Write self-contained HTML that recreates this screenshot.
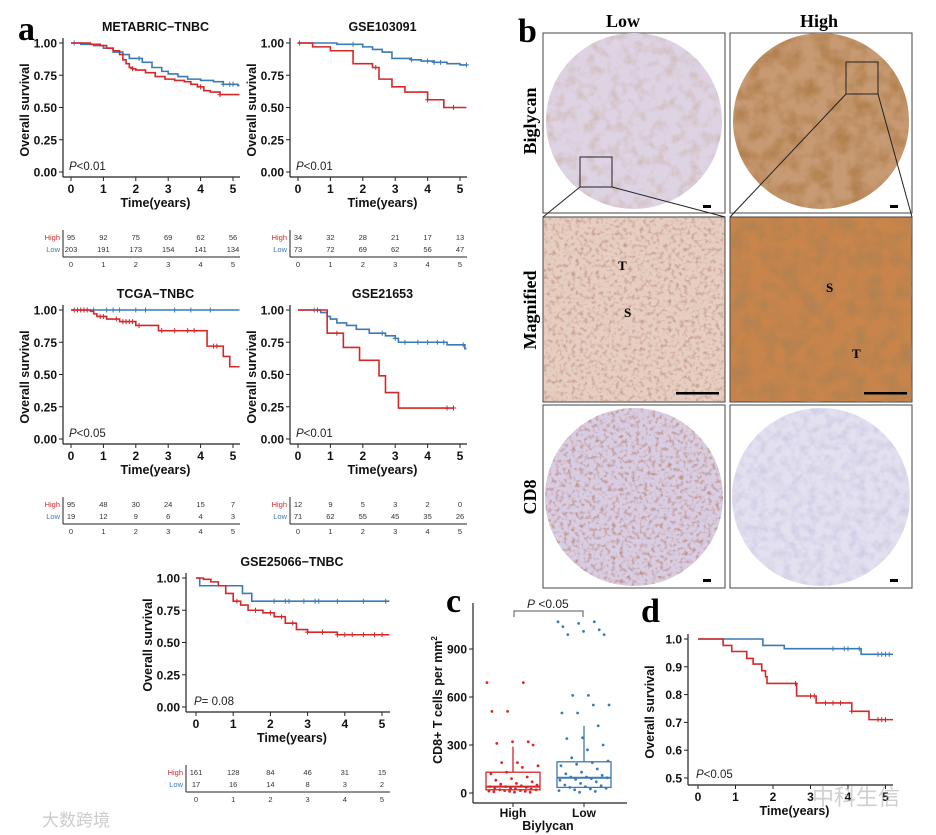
<!DOCTYPE html>
<html><head><meta charset="utf-8">
<style>
html,body{margin:0;padding:0;background:#fff;}
svg{display:block;font-family:"Liberation Sans",Arial,sans-serif;}
.tk{font-size:12px;font-weight:bold;fill:#111;}
.ttl{font-size:12.5px;font-weight:bold;fill:#111;}
.rt{font-size:7.5px;fill:#333;}
.pl{font-family:"Liberation Serif",serif;font-weight:bold;font-size:34px;fill:#000;}
.rl{font-family:"Liberation Serif",serif;font-weight:bold;font-size:18px;fill:#000;}
</style></head>
<body>
<svg id="fig" width="936" height="835" viewBox="0 0 936 835" xmlns="http://www.w3.org/2000/svg">
<defs>
<filter id="tex1" x="0" y="0" width="100%" height="100%"><feTurbulence type="fractalNoise" baseFrequency="0.09" numOctaves="3" seed="3"/><feColorMatrix type="matrix" values="0 0 0 0 0.55  0 0 0 0 0.35  0 0 0 0 0.25  0 0 0 1.6 -0.75"/></filter>
<filter id="tex2" x="0" y="0" width="100%" height="100%"><feTurbulence type="fractalNoise" baseFrequency="0.06" numOctaves="3" seed="7"/><feColorMatrix type="matrix" values="0 0 0 0 0.45  0 0 0 0 0.22  0 0 0 0 0.08  0 0 0 2.2 -0.8"/></filter>
<filter id="tex3" x="0" y="0" width="100%" height="100%"><feTurbulence type="fractalNoise" baseFrequency="0.25" numOctaves="2" seed="11"/><feColorMatrix type="matrix" values="0 0 0 0 0.5  0 0 0 0 0.25  0 0 0 0 0.2  0 0 0 2.5 -1.2"/></filter>
<filter id="tex4" x="0" y="0" width="100%" height="100%"><feTurbulence type="fractalNoise" baseFrequency="0.12" numOctaves="3" seed="5"/><feColorMatrix type="matrix" values="0 0 0 0 0.45  0 0 0 0 0.45  0 0 0 0 0.7  0 0 0 1.5 -0.6"/></filter>
<clipPath id="c1"><circle cx="634" cy="121" r="88"/></clipPath>
<clipPath id="c2"><circle cx="821" cy="121" r="88"/></clipPath>
<clipPath id="c3"><circle cx="634" cy="497" r="89"/></clipPath>
<clipPath id="c4"><circle cx="821" cy="497" r="89"/></clipPath>
<clipPath id="m1"><rect x="544" y="218" width="181" height="184"/></clipPath>
<clipPath id="m2"><rect x="731" y="218" width="181" height="184"/></clipPath>
</defs>

<text class="pl" x="18" y="40">a</text>
<text class="pl" x="518" y="42">b</text>
<text class="pl" x="446" y="612">c</text>
<text class="pl" x="641" y="622">d</text>

<g>
<text class="rl" x="606" y="27">Low</text>
<text class="rl" x="800" y="27">High</text>
<text class="rl" transform="translate(536,121) rotate(-90)" text-anchor="middle">Biglycan</text>
<text class="rl" transform="translate(536,310) rotate(-90)" text-anchor="middle">Magnified</text>
<text class="rl" transform="translate(536,497) rotate(-90)" text-anchor="middle">CD8</text>
<rect x="543" y="33" width="182" height="180" fill="#fff" stroke="#444"/>
<rect x="730" y="33" width="182" height="180" fill="#fff" stroke="#444"/>
<rect x="543" y="217" width="182" height="185" fill="#e6cfc2" stroke="#444"/>
<rect x="730" y="217" width="182" height="185" fill="#c8844a" stroke="#444"/>
<rect x="543" y="405" width="182" height="183" fill="#fff" stroke="#444"/>
<rect x="730" y="405" width="182" height="183" fill="#fff" stroke="#444"/>
<circle cx="634" cy="121" r="88" fill="#ddd3e3"/>
<rect x="546" y="33" width="176" height="176" filter="url(#tex1)" clip-path="url(#c1)" opacity="0.7"/>
<circle cx="821" cy="121" r="88" fill="#c79a73"/>
<rect x="733" y="33" width="176" height="176" filter="url(#tex2)" clip-path="url(#c2)"/>
<rect x="544" y="218" width="181" height="184" filter="url(#tex3)" clip-path="url(#m1)" opacity="0.8"/>
<rect x="731" y="218" width="181" height="184" filter="url(#tex2)" clip-path="url(#m2)"/>
<circle cx="634" cy="497" r="89" fill="#d8cde3"/>
<rect x="545" y="408" width="178" height="178" filter="url(#tex3)" clip-path="url(#c3)"/>
<circle cx="821" cy="497" r="89" fill="#e3e0ef"/>
<rect x="732" y="408" width="178" height="178" filter="url(#tex4)" clip-path="url(#c4)" opacity="0.6"/>
<text x="618" y="270" font-family="Liberation Serif" font-weight="bold" font-size="13">T</text>
<text x="624" y="317" font-family="Liberation Serif" font-weight="bold" font-size="13">S</text>
<text x="826" y="292" font-family="Liberation Serif" font-weight="bold" font-size="13">S</text>
<text x="852" y="358" font-family="Liberation Serif" font-weight="bold" font-size="13">T</text>
<g fill="#000">
<rect x="703" y="205" width="8" height="3"/><rect x="890" y="205" width="8" height="3"/>
<rect x="676" y="392" width="43" height="2.5"/><rect x="864" y="392" width="43" height="2.5"/>
<rect x="703" y="579" width="8" height="3"/><rect x="890" y="579" width="8" height="3"/>
</g>
<g fill="none" stroke="#222" stroke-width="1">
<rect x="580" y="157" width="32" height="30"/><line x1="580" y1="187" x2="543" y2="217"/><line x1="612" y1="187" x2="725" y2="217"/>
<rect x="846" y="62" width="32" height="32"/><line x1="846" y1="94" x2="730" y2="217"/><line x1="878" y1="94" x2="912" y2="217"/>
</g>
</g>

<g id="plots"></g>

<text x="42" y="826" font-size="17" fill="#ccc" font-family="'Liberation Sans','Noto Sans CJK SC',sans-serif">大数跨境</text>
<text x="812" y="805" font-size="22" fill="#bbb" font-family="'Liberation Sans','Noto Sans CJK SC',sans-serif" opacity="0.7">中科生信</text>
</svg>

<script>
const metaHighT=[0.6,0.9,1.1,1.3,1.5,1.6,1.7,1.8,1.9,2.0,2.3,2.6,2.9,3.2,3.5,3.7,3.9,4.1,4.3,4.6];
const metaHighS=[0.99,0.98,0.96,0.94,0.91,0.87,0.84,0.81,0.80,0.79,0.77,0.74,0.72,0.71,0.70,0.68,0.66,0.63,0.62,0.60];
const metaLowT=[0.3,0.7,1.0,1.3,1.6,1.8,2.2,2.5,2.8,3.0,3.3,3.6,4.0,4.4,4.7,5.15];
const metaLowS=[0.99,0.98,0.96,0.93,0.91,0.88,0.85,0.81,0.78,0.76,0.74,0.72,0.71,0.70,0.68,0.67];
const gse103HighT=[0.45,1.0,1.7,2.3,2.5,2.9,3.3,4.0,4.5];
const gse103HighS=[0.97,0.94,0.84,0.81,0.72,0.66,0.62,0.56,0.50];
const gse103LowT=[1.2,2.0,2.3,2.6,2.9,3.5,3.8,4.2,4.6,5.0];
const gse103LowS=[0.99,0.97,0.95,0.93,0.88,0.87,0.86,0.85,0.84,0.83];
const tcgaHighT=[0.6,0.7,0.8,1.1,1.5,2.0,2.7,4.2,4.7,4.9];
const tcgaHighS=[0.99,0.97,0.95,0.93,0.91,0.88,0.84,0.72,0.64,0.56];
const tcgaLowT=[];const tcgaLowS=[];
const gse216HighT=[0.9,1.4,1.9,2.5,2.7,3.1];
const gse216HighS=[0.82,0.71,0.61,0.49,0.36,0.24];
const gse216LowT=[0.7,0.9,1.0,1.2,1.5,1.8,2.2,2.7,3.0,3.1,4.6,5.15];
const gse216LowS=[0.98,0.95,0.93,0.90,0.88,0.85,0.82,0.80,0.78,0.75,0.73,0.70];
const gse250HighT=[0.2,0.4,0.6,0.8,1.0,1.2,1.4,1.8,2.1,2.4,2.7,3.0,3.8];
const gse250HighS=[0.99,0.97,0.94,0.88,0.82,0.79,0.75,0.73,0.70,0.65,0.60,0.58,0.56];
const gse250LowT=[0.1,1.25,1.5];
const gse250LowS=[0.94,0.88,0.82];
const dHighT=[0.67,0.9,1.3,1.47,1.7,1.8,1.84,2.63,3.15,4.1,4.56];
const dHighS=[0.977,0.955,0.93,0.91,0.886,0.864,0.84,0.795,0.77,0.74,0.71];
const dLowT=[1.73,2.3,4.35];
const dLowS=[0.977,0.965,0.945];
const metaHighC=[1.9,4.0,4.6];const metaLowC=[0.1,2.1,4.7,4.9,5.0];
const gse103HighC=[0.05,2.4,4.0,4.8];const gse103LowC=[1.7,3.5,4.0,4.2,4.4,5.2];
const tcgaHighC=[0.1,0.2,0.3,0.4,0.5,0.9,1.0,1.4,1.6,1.7,1.8,1.9,2.1,2.8,3.2,3.6,3.8,4.4,4.5];
const tcgaLowC=[0.7,1.1,1.3,1.5,2.0,2.3,3.2,3.7,4.3];
const gse216HighC=[0.6,1.2,4.6,4.8];const gse216LowC=[0.5,2.6,3.0,3.3,3.7,4.0,4.3,4.5,5.1];
const gse250HighC=[1.1,1.6,2.0,2.3,2.6,3.0,3.4,3.8,4.0,4.2,4.5,4.8,5.0];
const gse250LowC=[2.1,2.4,2.5,2.9,3.2,3.3,3.8,4.5,5.1];
const dHighC=[2.6,3.0,3.1,3.4,3.6,3.8,4.1,4.8,4.9,5.0];
const dLowC=[3.6,3.9,4.0,4.3,4.8,4.9,5.0,5.1];
const years=[0,1,2,3,4,5];
const metaRiskHigh=[95,92,75,69,62,56];const metaRiskLow=[203,191,173,154,141,134];
const gse103RiskHigh=[34,32,28,21,17,13];const gse103RiskLow=[73,72,69,62,56,47];
const tcgaRiskHigh=[95,48,30,24,15,7];const tcgaRiskLow=[19,12,9,6,4,3];
const gse216RiskHigh=[12,9,5,3,2,0];const gse216RiskLow=[71,62,55,45,35,26];
const gse250RiskHigh=[161,128,84,46,31,15];const gse250RiskLow=[17,16,14,8,3,2];
const surv4Ticks=[0,0.25,0.5,0.75,1.0];const surv4Labels=["0.00","0.25","0.50","0.75","1.00"];
const dTicks=[0.5,0.6,0.7,0.8,0.9,1.0];const dLabels=["0.5","0.6","0.7","0.8","0.9","1.0"];
const cHigh=[690,690,510,510,320,320,310,300,190,190,170,160,130,120,100,90,80,70,60,55,50,45,40,40,35,30,30,25,25,20,20,15,15,12,10,10,8,5,5];
const cLow=[1070,1070,1060,1040,1020,1010,990,990,610,610,550,550,500,500,420,345,340,300,270,220,200,190,180,170,150,130,120,110,100,100,95,90,85,80,70,60,50,45,40,35,30,25,20,15,10,5];
const cBoxHigh=[20,40,130,0,290];const cBoxLow=[35,95,195,0,420];
const cTicks=[0,300,600,900];

const RED="#d62728",BLUE="#3b7ab5";
const NS="http://www.w3.org/2000/svg";
const root=document.getElementById('plots');
function el(tag,attrs,parent,text){const e=document.createElementNS(NS,tag);for(const k in attrs)e.setAttribute(k,attrs[k]);if(text!==undefined)e.textContent=text;(parent||root).appendChild(e);return e;}

function km(c){
  const g=el('g',{});
  
  
  const X=t=>c.x0+t*c.ppy;
  const Y=s=>c.yBot-(s-c.ymin)/(1-c.ymin)*(c.yBot-c.yTop);
  el('line',{x1:c.axL,y1:c.yTop-5,x2:c.axL,y2:c.axB,stroke:'#222','stroke-width':1.2},g);
  el('line',{x1:c.axL,y1:c.axB,x2:c.axR,y2:c.axB,stroke:'#222','stroke-width':1.2},g);
  c.yt.forEach((v,i)=>{el('line',{x1:c.axL-4,y1:Y(v),x2:c.axL,y2:Y(v),stroke:'#222'},g);
    el('text',{class:'tk',x:c.axL-6,y:Y(v)+4.5,'text-anchor':'end'},g,c.yl[i]);});
  years.forEach(v=>{el('line',{x1:X(v),y1:c.axB,x2:X(v),y2:c.axB+4,stroke:'#222'},g);
    el('text',{class:'tk',x:X(v),y:c.axB+16,'text-anchor':'middle'},g,String(v));});
  const xt=el('text',{class:'ttl',x:(c.axL+c.axR)/2+4,y:c.axB+30,'text-anchor':'middle','font-size':13},g,'Time(years)');
  
  const yl=el('text',{class:'ttl',transform:`translate(${c.axL-34},${(c.yTop+c.axB)/2}) rotate(-90)`,'text-anchor':'middle'},g,'Overall survival');
  
  if(c.title){const tt=el('text',{class:'ttl',x:(c.axL+c.axR)/2+4,y:c.yTop-12,'text-anchor':'middle'},g,c.title);
    }
  const pt=el('text',{x:c.x0-2,y:c.axB-7,'font-size':11.5,fill:'#222'},g);
  el('tspan',{'font-style':'italic'},pt,'P');el('tspan',{},pt,c.p);
  
  [[c.lT,c.lS,c.lC,BLUE,'low'],[c.hT,c.hS,c.hC,RED,'high']].forEach(([T,S,C,col,nm])=>{
    let d=`M${X(0)},${Y(1)}`;
    T.forEach((t,i)=>{d+=`H${X(t)}V${Y(S[i])}`;});
    const end=nm=='high'?c.hEnd:c.lEnd;d+=`H${X(end)}`;
    const p=el('path',{d:d,fill:'none',stroke:col,'stroke-width':1.6},g);
    
    C.forEach(t=>{let v=1;T.forEach((tt,i)=>{if(tt<=t)v=S[i];});
      const m=el('path',{d:`M${X(t)-2.5},${Y(v)}h5M${X(t)},${Y(v)-2.5}v5`,stroke:col,'stroke-width':1},g);
      });
  });
  if(c.rH){
    const r0=c.yTop+194,r1=r0+12,ra=r0+20;
    el('line',{x1:c.axL,y1:r0-7,x2:c.axL,y2:ra,stroke:'#222'},g);
    el('line',{x1:c.axL,y1:ra,x2:c.axR,y2:ra,stroke:'#222'},g);
    el('text',{class:'rt',x:c.axL-3,y:r0+3,'text-anchor':'end',style:'fill:'+RED},g,'High');
    el('text',{class:'rt',x:c.axL-3,y:r1+3,'text-anchor':'end',style:'fill:'+BLUE},g,'Low');
    years.forEach((v,i)=>{
      el('text',{class:'rt',x:X(v),y:r0+3,'text-anchor':'middle'},g,String(c.rH[i]));
      el('text',{class:'rt',x:X(v),y:r1+3,'text-anchor':'middle'},g,String(c.rL[i]));
      el('text',{class:'rt',x:X(v),y:ra+10,'text-anchor':'middle'},g,String(v));});
  }
}
const base={axL:63,x0:71,ppy:32.4,yTop:43,yBot:172,axB:177,axR:240,ymin:0,yt:surv4Ticks,yl:surv4Labels,hEnd:5.2,lEnd:5.2};
function sh(dx,dy,o){return Object.assign({},base,{axL:63+dx,x0:71+dx,yTop:43+dy,yBot:172+dy,axB:177+dy,axR:240+dx},o);}
km(sh(0,0,{name:'km-metabric-tnbc',title:'METABRIC\u2212TNBC',p:'<0.01',hT:metaHighT,hS:metaHighS,lT:metaLowT,lS:metaLowS,hC:metaHighC,lC:metaLowC,rH:metaRiskHigh,rL:metaRiskLow}));
km(sh(227,0,{name:'km-gse103091',title:'GSE103091',p:'<0.01',hT:gse103HighT,hS:gse103HighS,lT:gse103LowT,lS:gse103LowS,hC:gse103HighC,lC:gse103LowC,rH:gse103RiskHigh,rL:gse103RiskLow}));
km(sh(0,267,{name:'km-tcga-tnbc',title:'TCGA\u2212TNBC',p:'<0.05',hT:tcgaHighT,hS:tcgaHighS,lT:tcgaLowT,lS:tcgaLowS,hC:tcgaHighC,lC:tcgaLowC,rH:tcgaRiskHigh,rL:tcgaRiskLow}));
km(sh(227,267,{name:'km-gse21653',title:'GSE21653',p:'<0.01',hT:gse216HighT,hS:gse216HighS,lT:gse216LowT,lS:gse216LowS,hC:gse216HighC,lC:gse216LowC,rH:gse216RiskHigh,rL:gse216RiskLow,hEnd:4.8}));
km(Object.assign({},base,{name:'km-gse25066-tnbc',title:'GSE25066\u2212TNBC',p:'= 0.08',axL:186,x0:196,ppy:37.2,yTop:578,yBot:707,axB:712,axR:390,hT:gse250HighT,hS:gse250HighS,lT:gse250LowT,lS:gse250LowS,hC:gse250HighC,lC:gse250LowC,rH:gse250RiskHigh,rL:gse250RiskLow}));
km(Object.assign({},base,{name:'km-panel-d',title:null,p:'<0.05',axL:688,x0:698,ppy:37.5,yTop:639,yBot:778,axB:785,axR:893,ymin:0.5,yt:dTicks,yl:dLabels,hT:dHighT,hS:dHighS,lT:dLowT,lS:dLowS,hC:dHighC,lC:dLowC,rH:null}));

(function(){
  const g=el('g',{});
  
  
  const Y=v=>793-v*(144/900);
  el('line',{x1:473,y1:603,x2:473,y2:803,stroke:'#222','stroke-width':1.2},g);
  el('line',{x1:473,y1:803,x2:627,y2:803,stroke:'#222','stroke-width':1.2},g);
  cTicks.forEach(v=>{el('line',{x1:469,y1:Y(v),x2:473,y2:Y(v),stroke:'#222'},g);
    el('text',{class:'tk',x:467,y:Y(v)+4.5,'text-anchor':'end'},g,String(v));});
  const groups=[['High',513,cHigh,cBoxHigh,RED],['Low',584,cLow,cBoxLow,BLUE]];
  groups.forEach(([nm,cx,vals,b,col])=>{
    el('line',{x1:cx,y1:Y(b[2]),x2:cx,y2:Y(b[4]),stroke:col,'stroke-width':1.3},g);
    const r=el('rect',{x:cx-27,y:Y(b[2]),width:54,height:Y(b[0])-Y(b[2]),fill:'none',stroke:col,'stroke-width':1.3},g);
    
    el('line',{x1:cx-27,y1:Y(b[1]),x2:cx+27,y2:Y(b[1]),stroke:col,'stroke-width':2},g);
    vals.forEach((v,i)=>{const jx=((i*37)%53)/53*52-26;
      const d=el('circle',{cx:cx+jx,cy:Y(v),r:1.4,fill:col},g);
      });
    el('line',{x1:cx,y1:803,x2:cx,y2:807,stroke:'#222'},g);
    el('text',{class:'tk',x:cx,y:817,'text-anchor':'middle','font-size':13},g,nm);
  });
  el('text',{class:'ttl',x:548,y:830,'text-anchor':'middle','font-size':13},g,'Biylycan');
  const yl=el('text',{class:'ttl',transform:'translate(442,700) rotate(-90)','text-anchor':'middle','font-size':12},g);
  el('tspan',{},yl,'CD8+ T cells per mm');el('tspan',{dy:-5,'font-size':8},yl,'2');
  
  el('path',{d:'M514,617V611H583V617',fill:'none',stroke:'#555'},g);
  const pt=el('text',{x:527,y:608,'font-size':12,fill:'#222'},g);
  el('tspan',{'font-style':'italic'},pt,'P');el('tspan',{},pt,' <0.05');
})();
</script>
</body></html>
